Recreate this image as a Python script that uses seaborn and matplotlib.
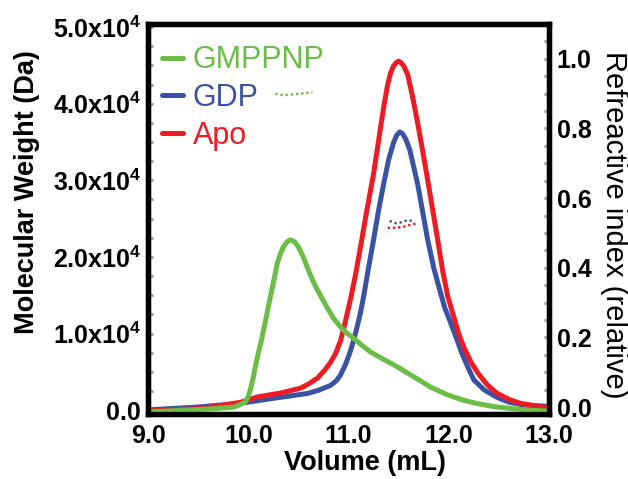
import seaborn as sns
import matplotlib.pyplot as plt
import matplotlib.ticker as mticker
import pandas as pd
from matplotlib.lines import Line2D

# refractive index traces (relative units)
gmppnp_vol = [9.0, 9.3, 9.6, 9.86, 9.97, 10.00, 10.02, 10.05, 10.07, 10.10, 10.13, 10.17,
              10.22, 10.26, 10.29, 10.32, 10.35, 10.39, 10.42, 10.46, 10.50, 10.55, 10.59,
              10.64, 10.69, 10.74, 10.79, 10.85, 10.92, 10.98, 11.05, 11.13, 11.22, 11.35,
              11.49, 11.65, 11.82, 11.98, 12.14, 12.30, 12.48, 12.65, 12.81, 13.0]
gmppnp_ri = [-0.014, -0.010, -0.006, 0.0, 0.014, 0.03, 0.049, 0.085, 0.115, 0.155, 0.19, 0.245,
             0.316, 0.37, 0.414, 0.44, 0.46, 0.475, 0.48, 0.475, 0.46, 0.43, 0.40,
             0.365, 0.336, 0.31, 0.284, 0.255, 0.23, 0.213, 0.198, 0.178, 0.158, 0.137,
             0.115, 0.087, 0.057, 0.036, 0.02, 0.009, 0.0, -0.005, -0.009, -0.012]

gdp_vol = [9.0, 9.5, 9.93, 10.25, 10.59, 10.70, 10.82, 10.88, 10.92, 10.97, 11.01, 11.05,
           11.09, 11.12, 11.15, 11.20, 11.25, 11.30, 11.35, 11.40, 11.45, 11.48, 11.51,
           11.54, 11.57, 11.61, 11.65, 11.69, 11.74, 11.79, 11.85, 11.91, 11.96, 12.02,
           12.08, 12.13, 12.19, 12.25, 12.35, 12.48, 12.60, 12.74, 13.0]
gdp_ri = [-0.008, 0.0, 0.011, 0.025, 0.039, 0.048, 0.062, 0.076, 0.092, 0.122, 0.153, 0.19,
          0.235, 0.272, 0.316, 0.40, 0.48, 0.565, 0.64, 0.71, 0.76, 0.78, 0.79,
          0.785, 0.77, 0.74, 0.69, 0.64, 0.56, 0.48, 0.40, 0.336, 0.285, 0.241,
          0.195, 0.155, 0.115, 0.078, 0.05, 0.028, 0.014, 0.006, 0.002]

apo_vol = [9.0, 9.5, 9.76, 9.93, 10.09, 10.32, 10.52, 10.60, 10.69, 10.76, 10.82, 10.87,
           10.92, 10.96, 11.02, 11.07, 11.12, 11.18, 11.25, 11.30, 11.35, 11.39, 11.42,
           11.45, 11.48, 11.50, 11.52, 11.55, 11.59, 11.64, 11.69, 11.74, 11.79, 11.84,
           11.89, 11.94, 11.99, 12.05, 12.10, 12.15, 12.22, 12.29, 12.38, 12.48, 12.60,
           12.71, 12.85, 13.0]
apo_ri = [-0.011, -0.005, 0.006, 0.014, 0.029, 0.040, 0.054, 0.066, 0.083, 0.105, 0.128, 0.153,
          0.19, 0.235, 0.31, 0.38, 0.46, 0.56, 0.67, 0.765, 0.86, 0.925, 0.96,
          0.98, 0.99, 0.993, 0.99, 0.98, 0.955, 0.89, 0.815, 0.735, 0.652, 0.565,
          0.48, 0.39, 0.318, 0.259, 0.21, 0.172, 0.13, 0.098, 0.065, 0.04, 0.022,
          0.011, 0.004, -0.003]

# molecular weight across each peak (Da)
gmppnp_mw_vol = [10.27, 10.35, 10.44, 10.52, 10.64]
gmppnp_mw = [41300, 41100, 41200, 41300, 41500]
gdp_mw_vol = [11.41, 11.47, 11.52, 11.59, 11.63]
gdp_mw = [24700, 24400, 24500, 24800, 24700]
apo_mw_vol = [11.39, 11.45, 11.54, 11.62, 11.69]
apo_mw = [23800, 23800, 23900, 24200, 24400]

samples = ["GMPPNP", "GDP", "Apo"]
color_dict = {"GMPPNP": "#6ABD45", "GDP": "#3A52A3", "Apo": "#ED1C24"}

ri = pd.concat([
    pd.DataFrame({"volume": gmppnp_vol, "ri": gmppnp_ri, "sample": "GMPPNP"}),
    pd.DataFrame({"volume": gdp_vol, "ri": gdp_ri, "sample": "GDP"}),
    pd.DataFrame({"volume": apo_vol, "ri": apo_ri, "sample": "Apo"}),
])
mw = pd.concat([
    pd.DataFrame({"volume": gmppnp_mw_vol, "mw": gmppnp_mw, "sample": "GMPPNP"}),
    pd.DataFrame({"volume": gdp_mw_vol, "mw": gdp_mw, "sample": "GDP"}),
    pd.DataFrame({"volume": apo_mw_vol, "mw": apo_mw, "sample": "Apo"}),
])

sns.set_style("white")
plt.rcParams['font.family'] = ['Liberation Sans', 'DejaVu Sans']
plt.rcParams['text.color'] = 'black'
plt.rcParams['axes.labelcolor'] = 'black'
plt.rcParams['mathtext.fontset'] = 'custom'
plt.rcParams['mathtext.rm'] = 'Liberation Sans:bold'
plt.rcParams['mathtext.default'] = 'rm'

fig = plt.figure(figsize=(6.28, 4.79), dpi=100)
ax = fig.add_axes([0.2357, 0.1357, 0.6385, 0.8142])

sns.lineplot(ax=ax, data=mw, x="volume", y="mw", hue="sample", hue_order=samples,
             palette=color_dict, estimator=None, legend=False,
             linewidth=1.7, linestyle=(0, (1, 1.2)))

ax2 = ax.twinx()
sns.lineplot(ax=ax2, data=ri, x="volume", y="ri", hue="sample",
             hue_order=["GDP", "Apo", "GMPPNP"], palette=color_dict,
             estimator=None, legend=False, linewidth=3.6)

ax.set_xlim(9, 13)
ax.set_ylim(-500, 50400)
ax2.set_ylim(-0.02, 1.10)

ax.set_xticks([9, 10, 11, 12, 13])
ax.xaxis.set_major_formatter(mticker.FormatStrFormatter("%.1f"))
ax.xaxis.set_minor_locator(mticker.MultipleLocator(0.2))
ax.set_yticks([0, 10000, 20000, 30000, 40000, 50000])
ax.yaxis.set_major_formatter(mticker.FuncFormatter(
    lambda v, p: "0.0" if v == 0 else f"{v / 1e4:.1f}x10$^{{4}}$"))
ax.yaxis.set_minor_locator(mticker.MultipleLocator(2500))
ax2.set_yticks([0, 0.2, 0.4, 0.6, 0.8, 1.0])
ax2.yaxis.set_major_formatter(mticker.FormatStrFormatter("%.1f"))
ax2.yaxis.set_minor_locator(mticker.MultipleLocator(0.05))

for a in [ax, ax2]:
    for s in a.spines.values():
        s.set_color("black")
        s.set_linewidth(3.8)
    a.tick_params(which="both", direction="in", color="#999999", width=2, length=3.5,
                  labelcolor="black")
    for lab in a.get_xticklabels() + a.get_yticklabels():
        lab.set_fontsize(18)
        lab.set_fontweight("bold")
ax.tick_params(axis="x", pad=7)
ax.tick_params(axis="y", pad=5)
ax2.tick_params(axis="y", pad=5.5)

ax.set_xlabel("Volume (mL)", fontsize=19.5, fontweight="bold", va="center", ha="center")
ax.xaxis.set_label_coords(0.541, -0.125)
ax.set_ylabel("Molecular Weight (Da)", fontsize=19.5, fontweight="bold",
              va="center", ha="center")
ax.yaxis.set_label_coords(-0.302, 0.569)
ax2.set_ylabel("Refreactive index (relative)", fontsize=21, rotation=270,
               va="center", ha="center")
ax2.yaxis.set_label_coords(1.162, 0.485)

handles = [Line2D([], [], color=color_dict[s], linewidth=3.6) for s in samples]
leg = ax2.legend(handles, samples, loc="upper left", bbox_to_anchor=(0.035, 0.945),
                 frameon=False, fontsize=22, handlelength=0.7, handletextpad=0.3,
                 labelspacing=0.25, borderpad=0, borderaxespad=0)
for t, s in zip(leg.get_texts(), samples):
    t.set_color(color_dict[s])

plt.savefig("out.png", dpi=100)
plt.close("all")
